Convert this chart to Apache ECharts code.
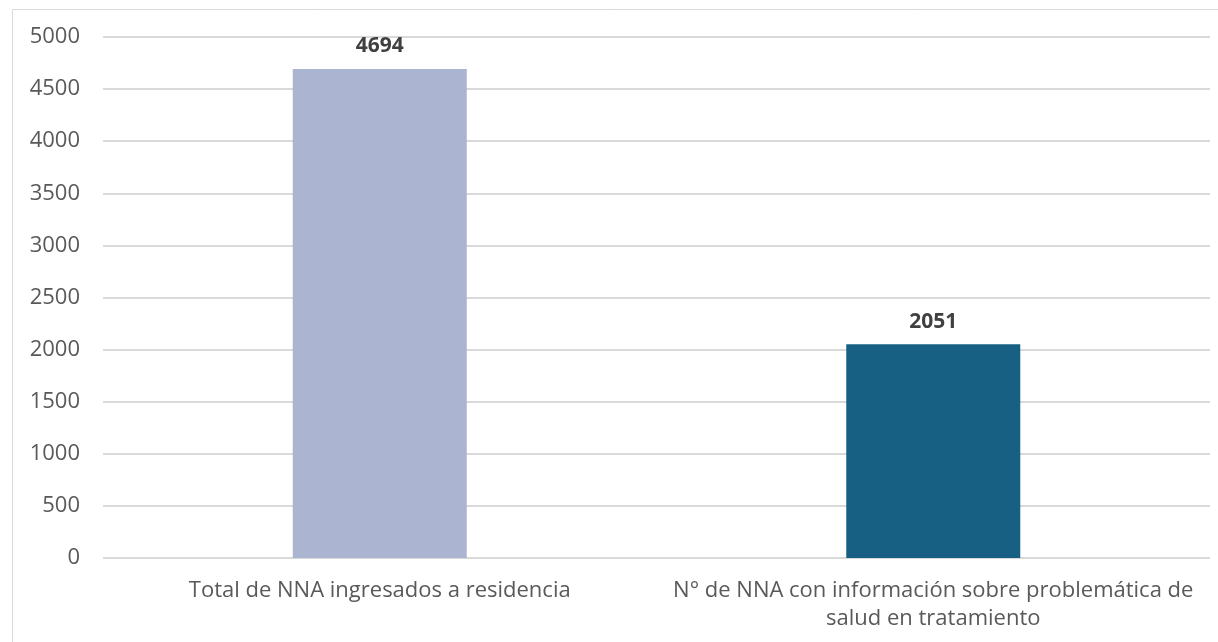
<!DOCTYPE html>
<html><head><meta charset="utf-8">
<script src="https://cdn.jsdelivr.net/npm/echarts@6/dist/echarts.min.js"></script>
<style>html,body{margin:0;padding:0;background:#fff}#c{width:1218px;height:642px}</style>
</head><body><div id="c"></div>
<script>
const categories = ["Total de NNA ingresados a residencia", "N° de NNA con información sobre problemática de\nsalud en tratamiento"];
const values = [4694, 2051];
const colors = ["#abb5d2", "#176083"];
const yTicks = [0, 500, 1000, 1500, 2000, 2500, 3000, 3500, 4000, 4500, 5000];

const FONT = '"Open Sans", sans-serif';
const chart = echarts.init(document.getElementById('c'));
chart.setOption({
  animation: false,
  graphic: [{type:'rect', shape:{x:12.5,y:9.5,width:1220,height:640}, style:{fill:'none', stroke:'#d9d9d9', lineWidth:1}}],
  grid: {left: 103, right: 8, top: 37, bottom: 84, containLabel: false},
  xAxis: {
    type: 'category', data: categories,
    axisLine: {show: false}, axisTick: {show: false},
    axisLabel: {color: '#595959', fontSize: 22, fontFamily: FONT, margin: 19, lineHeight: 28, interval: 0}
  },
  yAxis: {
    type: 'value', min: yTicks[0], max: yTicks[yTicks.length-1], interval: 500,
    axisLine: {show: false}, axisTick: {show: false},
    splitLine: {lineStyle: {color: '#d9d9d9', width: 2}},
    axisLabel: {color: '#595959', fontSize: 22, fontFamily: FONT, margin: 23, formatter: v => String(v)}
  },
  series: [{
    type: 'bar', barWidth: 174,
    data: values.map((v, i) => ({value: v, itemStyle: {color: colors[i]}})),
    label: {show: true, position: 'top', distance: 12, color: '#404040', fontSize: 21, fontWeight: 'bold', fontFamily: FONT}
  }]
});
</script></body></html>
